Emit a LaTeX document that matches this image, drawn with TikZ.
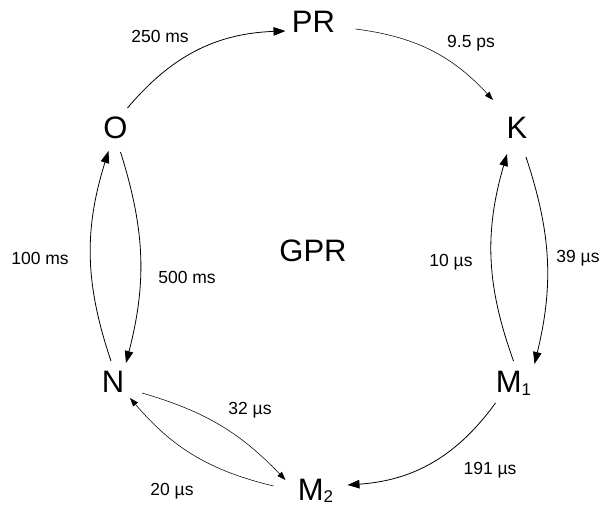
\documentclass[tikz,border=0pt]{standalone}
\usepackage{fontspec}
\setmainfont{Liberation Sans}
\usetikzlibrary{arrows.meta}
\newcommand{\lowsub}[1]{\raisebox{-3pt}{\fontsize{17}{17}\selectfont #1}}
\tikzset{
  big/.style={font=\fontsize{31}{31}\selectfont, anchor=base, inner sep=0pt},
  lbl/.style={font=\fontsize{17.5}{18}\selectfont, inner sep=0pt},
  conn/.style={line width=0.8pt, -{Triangle[length=12pt,width=8.5pt]}},
  thinconn/.style={line width=0.55pt, -{Triangle[length=8.5pt,width=6pt]}},
}
\begin{document}
\begin{tikzpicture}[x=1pt,y=1pt]
\useasboundingbox (0,0) rectangle (602,506);
% states
\node[big] (PR) at (313.5,473) {PR};
\node[big] (K) at (517,367) {K};
\node[big] (O) at (115.5,367) {O};
\node[big] (GPR) at (313,244) {GPR};
\node[big] (N) at (113,113) {N};
\node[big] (M1) at (513.5,113) {M\lowsub{1}};
\node[big] (M2) at (315.5,6) {M\lowsub{2}};
% connectors
\draw[conn] ([shift={(12,31)}]O.base) to[bend left=24] ([shift={(-28,2)}]PR.base);
\draw[thinconn] ([shift={(42,4)}]PR.base) to[bend left=20] ([shift={(-24,39)}]K.base);
\draw[conn] ([shift={(9,-18)}]K.base) to[bend left=16] ([shift={(21,29)}]M1.base);
\draw[conn] ([shift={(0,32)}]M1.base) to[bend left=18] ([shift={(-10,-15)}]K.base);
\draw[conn] ([shift={(5,-13)}]O.base) to[bend left=16] ([shift={(13,30)}]N.base);
\draw[conn] ([shift={(-2,32)}]N.base) to[bend left=18] ([shift={(-7,-12)}]O.base);
\draw[thinconn] ([shift={(29,0)}]N.base) to[bend left=15] ([shift={(-30,20)}]M2.base);
\draw[thinconn] ([shift={(-42,14)}]M2.base) to[bend left=18] ([shift={(17,-5)}]N.base);
\draw[conn] ([shift={(-18,-10)}]M1.base) to[bend left=25] ([shift={(32,15)}]M2.base);
% labels
\node[lbl] (l250) at (160,470) {250 ms};
\node[lbl] (l95) at (471,463) {9.5 ps};
\node[lbl] (l100) at (40,248) {100 ms};
\node[lbl] (l500) at (187,229) {500 ms};
\node[lbl] (l10) at (451,244) {10 µs};
\node[lbl] (l39) at (578,248) {39 µs};
\node[lbl] (l32) at (250,96) {32 µs};
\node[lbl] (l191) at (490,36) {191 µs};
\node[lbl] (l20) at (172,15) {20 µs};
\end{tikzpicture}
\end{document}
